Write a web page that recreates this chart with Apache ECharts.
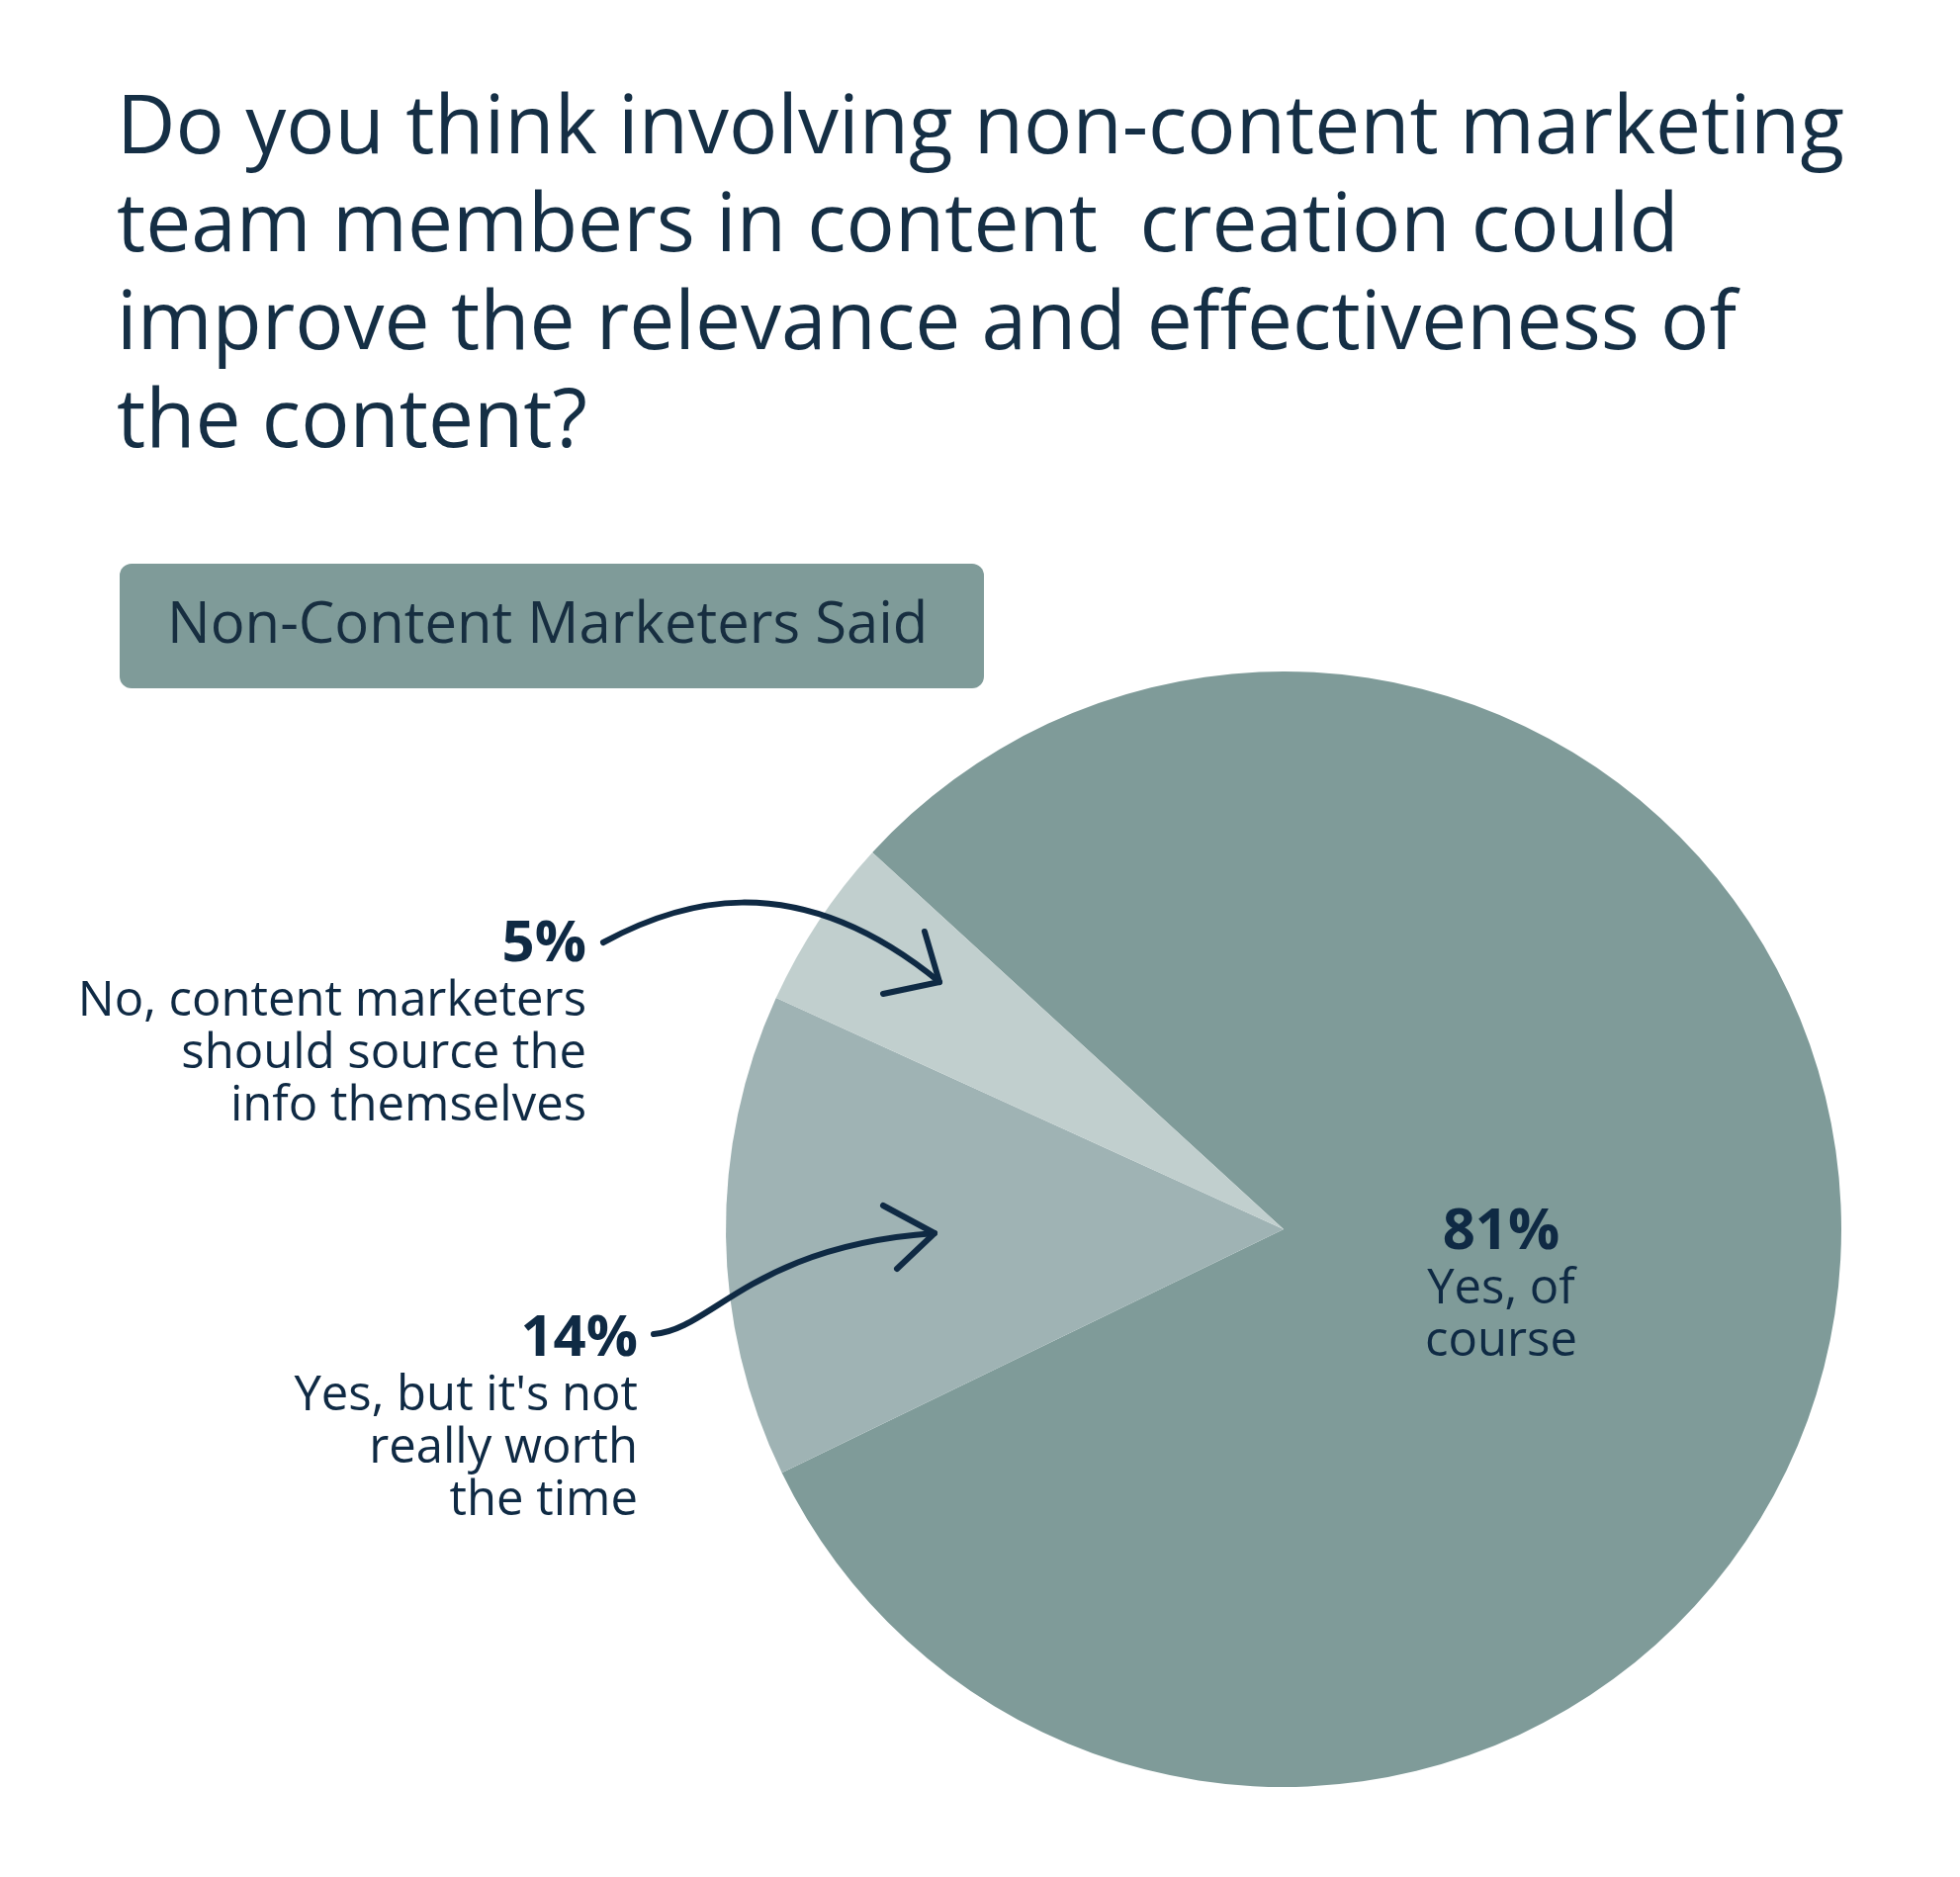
<!DOCTYPE html>
<html>
<head>
<meta charset="utf-8">
<title>Non-Content Marketers Said</title>
<script src="https://cdn.jsdelivr.net/npm/echarts@6/dist/echarts.min.js"></script>
<style>
  html, body { margin: 0; padding: 0; background: #ffffff; }
  #main { width: 1982px; height: 1898px; }
</style>
</head>
<body>
<div id="main"></div>
<script>
// chart data
var categories = [
  'Yes, of\ncourse',
  "Yes, but it's not\nreally worth\nthe time",
  'No, content marketers\nshould source the\ninfo themselves'
];
var shares = [81, 14, 5];
var sliceColors = ['#7f9b99', '#9fb3b4', '#c1cfce'];

var titleText = 'Do you think involving non-content marketing\n' +
  'team members in content  creation could\n' +
  'improve the relevance and effectiveness of\n' +
  'the content?';
var badgeText = 'Non-Content Marketers Said';

var ink = '#0f2a44';
var font = 'Open Sans';

// where each slice label sits (x, top) and how it is aligned
var labelSpots = [
  { x: 1518, y: 1214, align: 'center' },
  { x: 645, y: 1322, align: 'right' },
  { x: 593, y: 923, align: 'right' }
];

var myChart = echarts.init(document.getElementById('main'));

var pieData = shares.map(function (v, i) {
  return {
    value: v,
    name: categories[i],
    itemStyle: { color: sliceColors[i] },
    label: { align: labelSpots[i].align }
  };
});

var arrowStyle = { stroke: ink, lineWidth: 6, fill: null, lineCap: 'round', lineJoin: 'round' };

var option = {
  backgroundColor: '#ffffff',
  animation: false,
  title: {
    text: titleText,
    left: 118,
    top: 82,
    padding: 0,
    textStyle: {
      fontFamily: font,
      fontSize: 82,
      fontWeight: 'normal',
      lineHeight: 99,
      color: '#152f45'
    }
  },
  graphic: [
    {
      type: 'rect',
      shape: { x: 121, y: 570, width: 874, height: 126, r: 12 },
      style: { fill: '#7f9b99' },
      silent: true
    },
    {
      type: 'text',
      x: 169,
      y: 633,
      style: {
        text: badgeText,
        fontFamily: font,
        fontSize: 58,
        fill: '#172e40',
        verticalAlign: 'middle'
      },
      silent: true
    },
    // arrow to the 5% slice
    {
      type: 'bezierCurve',
      z: 100,
      shape: { x1: 610, y1: 953, cpx1: 680, cpy1: 915, cpx2: 800, cpy2: 870, x2: 950, y2: 993 },
      style: arrowStyle,
      silent: true
    },
    {
      type: 'polyline',
      z: 100,
      shape: { points: [[935, 942], [950, 993], [893, 1005]] },
      style: arrowStyle,
      silent: true
    },
    // arrow to the 14% slice
    {
      type: 'bezierCurve',
      z: 100,
      shape: { x1: 661, y1: 1349, cpx1: 720, cpy1: 1345, cpx2: 760, cpy2: 1260, x2: 945, y2: 1247 },
      style: arrowStyle,
      silent: true
    },
    {
      type: 'polyline',
      z: 100,
      shape: { points: [[893, 1219], [945, 1247], [907, 1283]] },
      style: arrowStyle,
      silent: true
    }
  ],
  series: [{
    type: 'pie',
    center: [1298, 1243],
    radius: 564,
    startAngle: 137.5,
    clockwise: true,
    silent: true,
    emphasis: { disabled: true },
    itemStyle: { borderWidth: 0 },
    labelLine: { show: false },
    label: {
      show: true,
      position: 'inside',
      formatter: function (p) {
        return '{p|' + p.value + '%}\n{t|' + p.name.split('\n').join('}\n{t|') + '}';
      },
      rich: {
        p: { fontFamily: font, fontSize: 58, fontWeight: 'bold', lineHeight: 64, color: ink },
        t: { fontFamily: font, fontSize: 49, lineHeight: 53, color: ink }
      }
    },
    labelLayout: function (params) {
      var s = labelSpots[params.dataIndex];
      return { x: s.x, y: s.y, align: s.align, verticalAlign: 'top' };
    },
    data: pieData
  }]
};

myChart.setOption(option);
</script>
</body>
</html>
